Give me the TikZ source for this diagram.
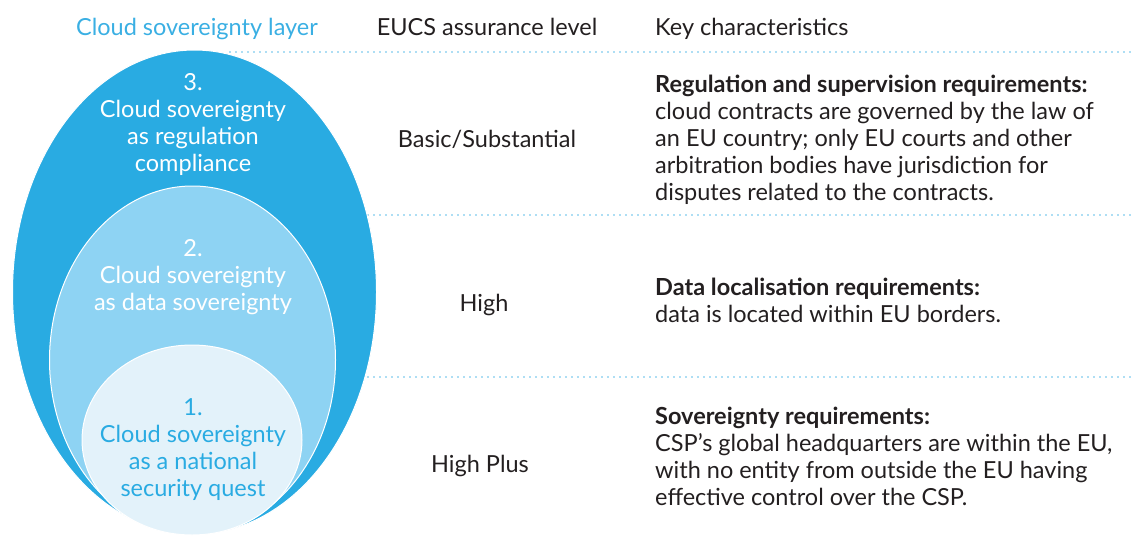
\documentclass[tikz,border=0pt]{standalone}
\usepackage{fontspec}
\setmainfont{Lato}
\usetikzlibrary{shapes.geometric}
\definecolor{outerblue}{HTML}{29ABE2}
\definecolor{midblue}{HTML}{8ED3F3}
\definecolor{innerblue}{HTML}{E3F2FA}
\definecolor{dotblue}{HTML}{5BBDE8}
\definecolor{headblue}{HTML}{3AAFE3}
\definecolor{txt}{HTML}{231F20}
\tikzset{
  layer/.style={ellipse, draw=white, line width=1pt, inner sep=0pt},
  sep/.style={dotblue, line width=1.7pt, line cap=round, dash pattern=on 0pt off 6pt},
  body/.style={inner sep=0pt, text=txt, font=\fontsize{23.5}{27}\selectfont},
  head/.style={inner sep=0pt, anchor=base, font=\fontsize{23.5}{27}\selectfont},
}
\newcommand{\blk}[1]{\begin{tabular}[t]{@{}l@{}}#1\end{tabular}}
\newcommand{\cblk}[1]{\begin{tabular}[t]{@{}c@{}}#1\end{tabular}}
\begin{document}
\begin{tikzpicture}[x=1pt,y=-1pt]
\useasboundingbox (0,0) rectangle (1131,536);
% separators
\coordinate (s1a) at (230,52);  \coordinate (s1b) at (1131,52);
\coordinate (s2a) at (368,215); \coordinate (s2b) at (1131,215);
\coordinate (s3a) at (368,377); \coordinate (s3b) at (1131,377);
\draw[sep] (s1a) -- (s1b);
\draw[sep] (s2a) -- (s2b);
\draw[sep] (s3a) -- (s3b);
% ellipses
\node[layer, fill=outerblue, minimum width=364, minimum height=484] (outer) at (194.5,292) {};
\node[layer, fill=midblue, minimum width=286, minimum height=348] (mid) at (192.5,360) {};
\node[layer, fill=innerblue, minimum width=220, minimum height=190] (inner) at (192,440) {};
% headers
\node[head, text=headblue] (h1) at (197,35) {Cloud sovereignty layer};
\node[head, text=txt] (h2) at (487,35) {EUCS assurance level};
\node[head, text=txt, anchor=base west] (h3) at (655,35) {Key characteristics};
% ellipse labels
\node[body, text=white, anchor=base] (l3) at (193,90) {\cblk{3.\\Cloud sovereignty\\as regulation\\compliance}};
\node[body, text=white, anchor=base] (l2) at (193,256) {\cblk{2.\\Cloud sovereignty\\as data sovereignty}};
\node[body, text=outerblue, anchor=base] (l1) at (193,415) {\cblk{1.\\Cloud sovereignty\\as a national\\security quest}};
% levels
\node[body, anchor=base] (v3) at (487,147) {Basic/Substantial};
\node[body, anchor=base] (v2) at (484,311) {High};
\node[body, anchor=base] (v1) at (480,472) {High Plus};
% characteristics
\node[body, anchor=base west] (k3) at (655,92) {\blk{\textbf{Regulation and supervision requirements:}\\cloud contracts are governed by the law of\\an EU country; only EU courts and other\\arbitration bodies have jurisdiction for\\disputes related to the contracts.}};
\node[body, anchor=base west] (k2) at (655,295) {\blk{\textbf{Data localisation requirements:}\\data is located within EU borders.}};
\node[body, anchor=base west] (k1) at (655,424) {\blk{\textbf{Sovereignty requirements:}\\CSP’s global headquarters are within the EU,\\with no entity from outside the EU having\\effective control over the CSP.}};
\end{tikzpicture}
\end{document}
